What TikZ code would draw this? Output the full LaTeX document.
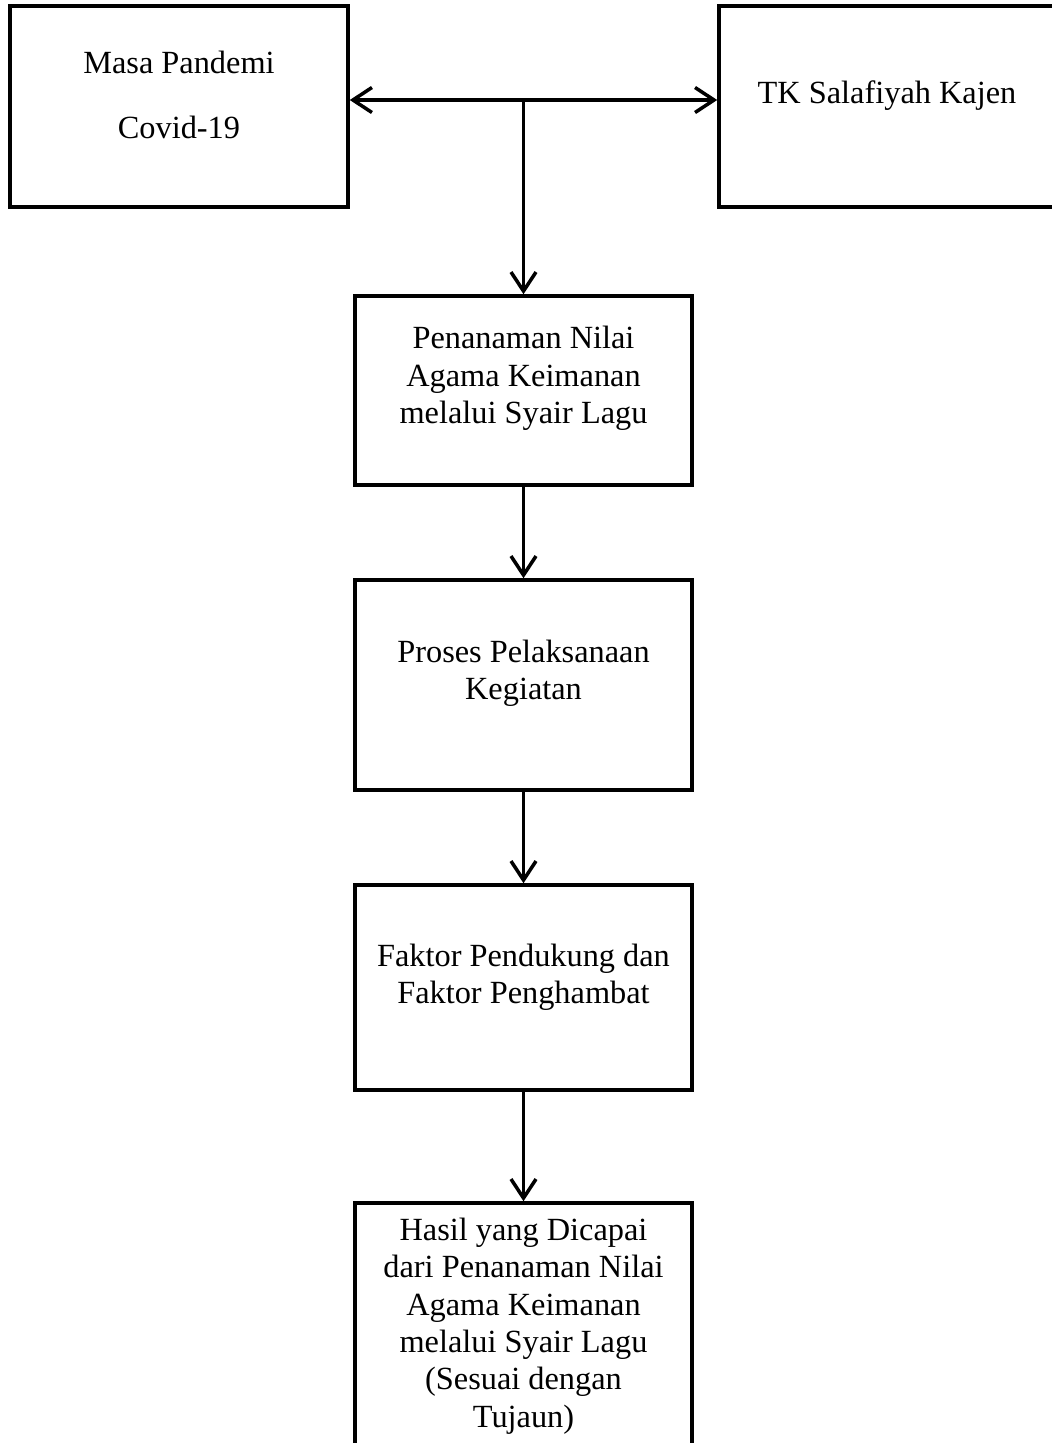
\documentclass[tikz,border=0pt]{standalone}
\usepackage{fontspec}
\setmainfont{Liberation Serif}
\usetikzlibrary{arrows.meta,positioning}
\tikzset{
    ujung/.tip={Straight Barb[length=0.38cm, width=0.5cm, line width=2pt]},
    kotak/.style={draw, line width=2pt, minimum width=6.74cm, inner sep=0pt},
    isi/.style={align=center, inner sep=0pt, font=\fontsize{18.4}{21.3}\selectfont},
    panah/.style={line width=2pt, -ujung},
}
\begin{document}
\begin{tikzpicture}
    \useasboundingbox (0,0) rectangle (21.04,-28.86);
    \clip (0,0) rectangle (21.04,-28.86);
    % kotak atas
    \node[kotak, minimum width=6.76cm, minimum height=4.02cm] (masa) at (3.58,-2.13) {};
    \node[kotak, minimum width=6.72cm, minimum height=4.02cm] (tk) at (17.74,-2.13) {};
    \node[isi] (masatxt) at ([yshift=0.23cm]masa.center) {Masa Pandemi\\[16pt]Covid-19};
    \node[isi] (tktxt) at ([yshift=0.21cm]tk.center) {TK Salafiyah Kajen};
    % kotak tengah
    \node[kotak, minimum height=3.78cm] (nilai) at (10.47,-7.81) {};
    \node[kotak, minimum height=4.2cm] (proses) at (10.47,-13.7) {};
    \node[kotak, minimum height=4.1cm] (faktor) at (10.47,-19.75) {};
    \node[kotak, minimum height=5.14cm] (hasil) at (10.47,-26.63) {};
    \node[isi] (nilaitxt) at ([yshift=0.24cm]nilai.center)
        {Penanaman Nilai\\Agama Keimanan\\melalui Syair Lagu};
    \node[isi] (prosestxt) at ([yshift=0.24cm]proses.center)
        {Proses Pelaksanaan\\Kegiatan};
    \node[isi] (faktortxt) at ([yshift=0.21cm]faktor.center)
        {Faktor Pendukung dan\\Faktor Penghambat};
    \node[isi] (hasiltxt) at (10.47,-26.52)
        {Hasil yang Dicapai\\dari Penanaman Nilai\\Agama Keimanan\\melalui Syair Lagu\\(Sesuai dengan\\Tujaun)};
    % panah
    \coordinate (simpang) at (nilai.north |- 0,-2.0);
    \draw[panah, ujung-ujung] (masa.east |- simpang) -- (tk.west |- simpang);
    \draw[panah] (simpang) -- (nilai.north);
    \draw[panah] (nilai) -- (proses);
    \draw[panah] (proses) -- (faktor);
    \draw[panah] (faktor) -- (hasil);
\end{tikzpicture}
\end{document}
